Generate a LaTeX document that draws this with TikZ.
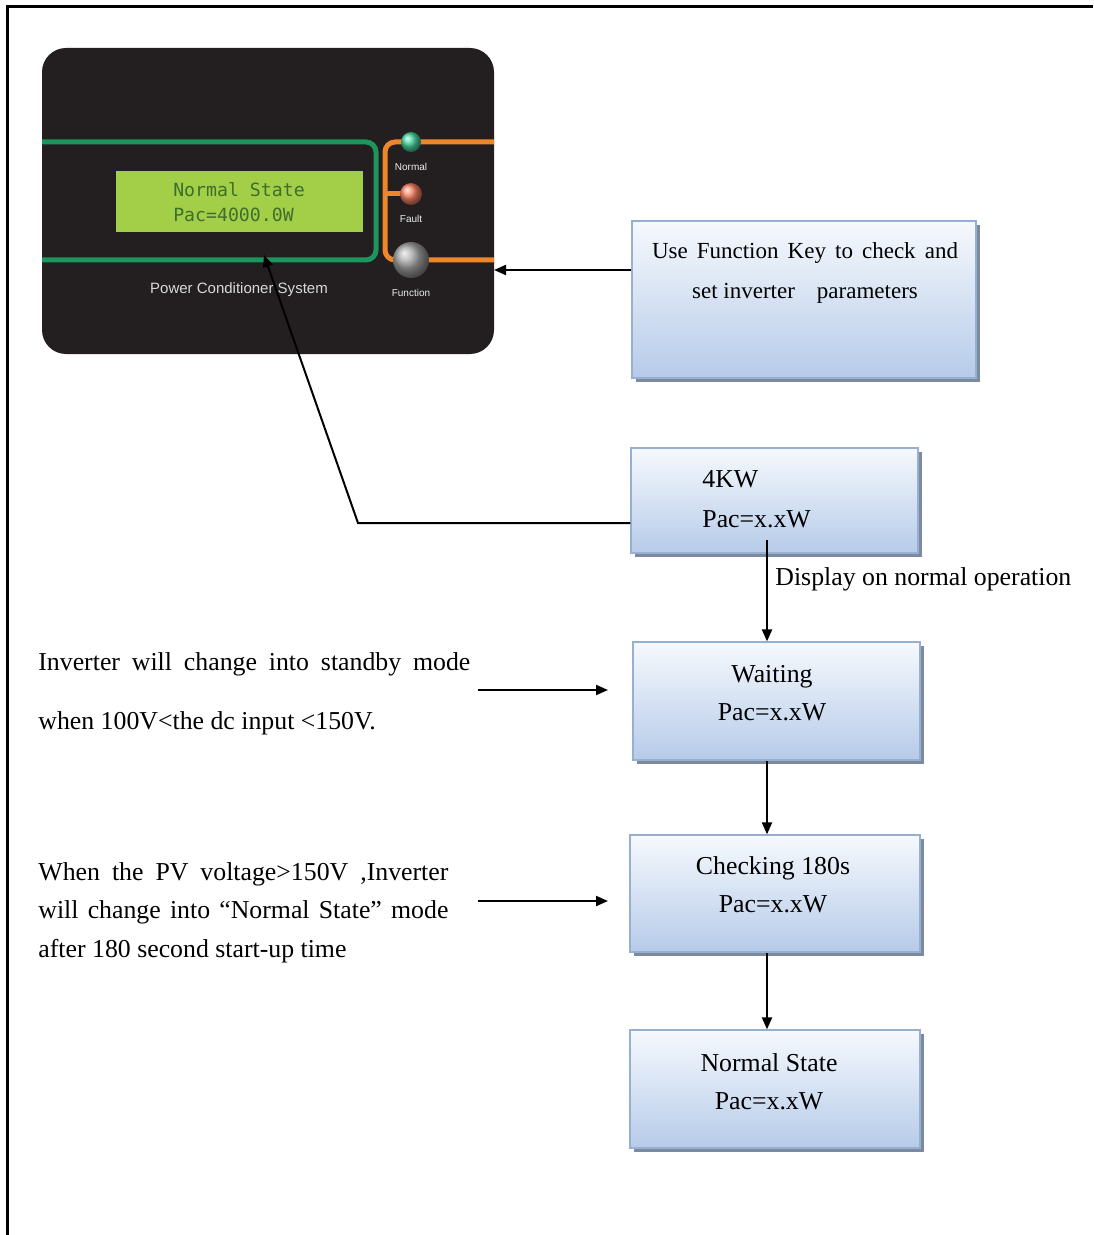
\documentclass[tikz,border=0pt]{standalone}
\usepackage{fontspec}
\setmainfont{Liberation Serif}
\newfontfamily\panelfont{Liberation Sans}
\newfontfamily\lcdfont{DejaVu Sans Mono}
\usetikzlibrary{arrows.meta,shadows}

\definecolor{panelbg}{RGB}{35,31,32}
\definecolor{framegreen}{RGB}{28,150,92}
\definecolor{frameorange}{RGB}{238,134,42}
\definecolor{lcdgreen}{RGB}{163,206,72}
\definecolor{lcdtext}{RGB}{62,110,44}
\definecolor{ledgreen}{RGB}{70,215,160}
\definecolor{ledred}{RGB}{250,130,100}
\definecolor{boxedge}{RGB}{150,175,210}
\definecolor{boxtop}{RGB}{246,249,253}
\definecolor{boxbot}{RGB}{182,203,233}
\definecolor{boxshade}{RGB}{110,125,150}

\tikzset{
  statebox/.style={draw=boxedge, line width=0.6pt, top color=boxtop, bottom color=boxbot,
    drop shadow={shadow xshift=2pt, shadow yshift=-2pt, fill=boxshade, opacity=0.9}},
  boxtext/.style={align=center, inner sep=0pt, font=\fontsize{12.9}{19}\selectfont},
  ledlabel/.style={inner sep=0pt, text=gray!15, font=\panelfont\fontsize{5}{6}\selectfont},
  arr/.style={line width=1pt, -{Triangle[length=6pt,width=5pt]}},
}

\begin{document}
\begin{tikzpicture}[x=0.5pt,y=-0.5pt]
  \useasboundingbox (0,0) rectangle (1093,1235);
  \draw[line width=1.5pt] (7,1235) -- (7,7) -- (1093,7);

  % front panel
  \fill[panelbg, rounded corners=12pt] (42,48) rectangle (494,354);
  \draw[framegreen, line width=2.5pt, rounded corners=5pt] (42,142) -- (376,142) -- (376,260) -- (42,260);
  \fill[lcdgreen] (116,171) rectangle (363,232);
  \node[align=left, inner sep=0pt, text=lcdtext, font=\lcdfont\fontsize{9.1}{12.5}\selectfont] (lcd) at (239,202) {Normal State\\Pac=4000.0W};
  \node[inner sep=0pt, text=gray!30, font=\panelfont\fontsize{7.5}{9}\selectfont] (pcs) at (239,290) {Power Conditioner System};
  \draw[frameorange, line width=2.5pt, rounded corners=5pt] (494,142) -- (385,142) -- (385,260) -- (494,260);
  \draw[frameorange, line width=2.5pt] (385,194) -- (411,194);
  \shade[ball color=ledgreen] (411,142) circle (5pt);
  \shade[ball color=ledred] (411,194) circle (5.5pt);
  \shade[ball color=gray!70] (411,260) circle (9pt);
  \node[ledlabel] (normlbl) at (411,167) {Normal};
  \node[ledlabel] (faultlbl) at (411,219) {Fault};
  \node[ledlabel] (funclbl) at (411,293) {Function};

  % state boxes
  \node[statebox, minimum width=172pt, minimum height=78.5pt] (fkey) at (804,299.5) {};
  \node[statebox, minimum width=143.5pt, minimum height=52.5pt] (kw) at (774.5,500.5) {};
  \node[statebox, minimum width=143.5pt, minimum height=59pt] (wait) at (776.5,701) {};
  \node[statebox, minimum width=145pt, minimum height=58.5pt] (check) at (775,893.5) {};
  \node[statebox, minimum width=145pt, minimum height=59pt] (normal) at (775,1089) {};

  \node[boxtext, anchor=base, font=\fontsize{11.5}{20}\selectfont] (fkeytxt) at (805,299)
    {\makebox[153pt][s]{Use Function Key to check and}\\set inverter\hspace{11pt}parameters};
  \node[boxtext, align=left, anchor=base west, font=\fontsize{12.9}{20}\selectfont] (kwtxt) at (702,527) {4KW\\Pac=x.xW};
  \node[boxtext, anchor=base] (waittxt) at (772,720) {Waiting\\Pac=x.xW};
  \node[boxtext, anchor=base] (checktxt) at (773,912) {Checking 180s\\Pac=x.xW};
  \node[boxtext, anchor=base] (normaltxt) at (769,1109) {Normal State\\Pac=x.xW};

  % notes on the left
  \node[boxtext, align=left, anchor=base west, font=\fontsize{12.9}{29.5}\selectfont] (stby) at (38,729)
    {\makebox[216pt][s]{Inverter will change into standby mode}\\when 100V<the dc input <150V.};
  \node[boxtext, align=left, anchor=base west, font=\fontsize{12.9}{19.25}\selectfont] (pv) at (38,957)
    {\makebox[205pt][s]{When the PV voltage>150V ,Inverter}\\\makebox[205pt][s]{will change into “Normal State” mode}\\after 180 second start-up time};

  % connectors
  \coordinate (fnkey) at (494,270);
  \draw[arr] (fkey.west |- fnkey) -- (fnkey);
  \coordinate (bend) at (358,523);
  \coordinate (lcdpt) at (264,255);
  \draw[arr] (kw.west |- bend) -- (bend) -- (lcdpt);
  \coordinate (kwout) at (767,540);
  \draw[arr] (kwout) -- (kwout |- wait.north);
  \node[boxtext, anchor=base west] (disp) at (775,585) {Display on normal operation};
  \draw[arr] (wait.south -| kwout) -- (check.north -| kwout);
  \draw[arr] (check.south -| kwout) -- (normal.north -| kwout);
  \coordinate (stbyout) at (478,690);
  \coordinate (stbyin) at (608,690);
  \draw[arr] (stbyout) -- (stbyin);
  \coordinate (pvout) at (478,901);
  \coordinate (pvin) at (608,901);
  \draw[arr] (pvout) -- (pvin);
\end{tikzpicture}
\end{document}
